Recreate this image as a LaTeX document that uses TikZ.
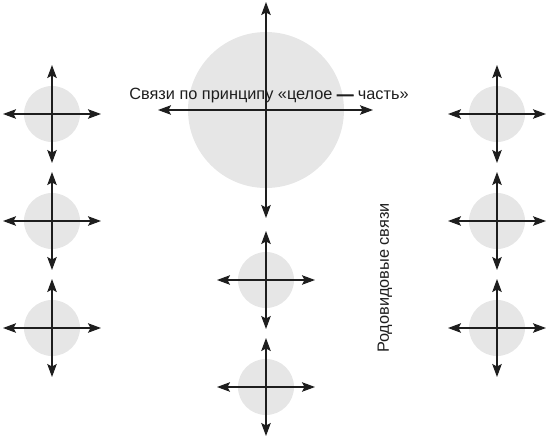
\documentclass[tikz,border=0pt]{standalone}
\usepackage{fontspec}
\setmainfont{Liberation Sans}
\newfontfamily\heavydash[FakeBold=5]{Liberation Sans}
\usetikzlibrary{arrows.meta,calc}
\definecolor{discgray}{HTML}{E6E6E6}
\definecolor{linegray}{HTML}{1E1E1E}
\tikzset{
  disc/.style={circle,fill=discgray,draw=none,inner sep=0pt,minimum size=#1},
  axis/.style={draw=linegray,line width=1.1pt,{Stealth[length=13pt,width=9.5pt,inset=2.5pt]}-{Stealth[length=13pt,width=9.5pt,inset=2.5pt]}},
  lbl/.style={font=\fontsize{16.3}{19}\selectfont,text=linegray,inner sep=0pt}
}
\begin{document}
\begin{tikzpicture}[x=1pt,y=-1pt]
\useasboundingbox (0,0) rectangle (550,440);
% big disc
\node[disc=156pt] (big) at (266,110) {};
\draw[axis] ($(big.center)+(0,-108)$) -- ($(big.center)+(0,108)$);
\draw[axis] ($(big.center)+(-108,0)$) -- ($(big.center)+(107,0)$);
% small discs
\foreach \n/\x/\y in {l1/52/114, l2/52/221, l3/52/328, r1/497/114, r2/497/221, r3/497/328, m1/266/280, m2/266/387}{
  \node[disc=56pt] (\n) at (\x,\y) {};
  \draw[axis] ($(\n.center)+(0,-49)$) -- ($(\n.center)+(0,49)$);
  \draw[axis] ($(\n.center)+(-49,0)$) -- ($(\n.center)+(49,0)$);
}
\node[lbl] (t1) at (269,95.5) {Связи по принципу «целое {\heavydash —} часть»};
\node[lbl,rotate=90] (t2) at (385,278) {Родовидовые связи};
\end{tikzpicture}
\end{document}
